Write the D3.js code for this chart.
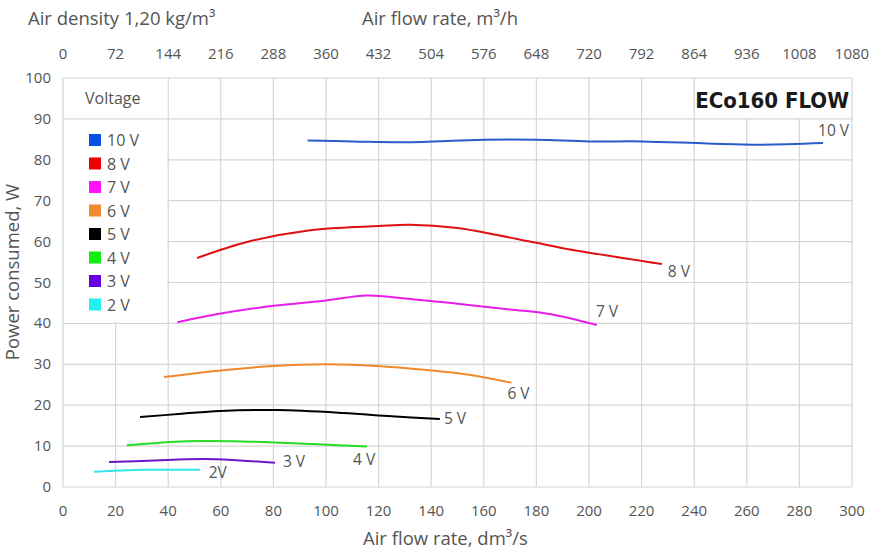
<!doctype html>
<html>
<head>
<meta charset="utf-8">
<script src="https://cdnjs.cloudflare.com/ajax/libs/d3/7.8.5/d3.min.js"></script>
<style>
  body { margin: 0; background: #fff; }
  text { font-family: "Open Sans", "Noto Sans", sans-serif; fill: #555; }
</style>
</head>
<body>
<div id="chart"></div>
<script>
// voltages and their measured curves (flow dm3/s, power W)
const voltages = ["10 V", "8 V", "7 V", "6 V", "5 V", "4 V", "3 V", "2 V"];
const curveLabels = ["10 V", "8 V", "7 V", "6 V", "5 V", "4 V", "3 V", "2V"];
const lineColors = ["#2a5ccc", "#e01010", "#e81ee8", "#f0892a", "#000000", "#25dd25", "#6a18c8", "#33e6ee"];
const swatchColors = ["#0a52e6", "#ee0000", "#ff10ff", "#f08a30", "#000000", "#10ee10", "#6a00e0", "#22f0f0"];

const curve10 = [[93, 84.7], [110, 84.5], [130, 84.3], [160, 84.9], [180, 84.9], [200, 84.5], [220, 84.5], [245, 84.0], [265, 83.7], [289, 84.1]];
const curve8 = [[51, 56], [70, 59.9], [94, 62.8], [120, 63.8], [132, 64.1], [150, 63.3], [165, 61.6], [180, 59.7], [190, 58.4], [227.7, 54.5]];
const curve7 = [[43.5, 40.3], [60, 42.4], [80, 44.3], [100, 45.6], [115.5, 46.8], [130, 46.1], [150, 44.8], [170, 43.4], [185, 42.3], [203, 39.6]];
const curve6 = [[38.4, 26.9], [60, 28.5], [80, 29.6], [100, 30.0], [119.4, 29.6], [138.4, 28.6], [155, 27.4], [170.5, 25.5]];
const curve5 = [[29.3, 17.1], [45, 17.9], [59.7, 18.6], [81.4, 18.8], [106.5, 18.1], [125, 17.3], [143.3, 16.6]];
const curve4 = [[24.3, 10.2], [47, 11.2], [64.6, 11.2], [95, 10.5], [115.6, 9.9]];
const curve3 = [[17.5, 6.1], [35, 6.5], [47, 6.8], [58.5, 6.8], [80.6, 5.9]];
const curve2 = [[11.8, 3.7], [30.4, 4.2], [52, 4.2]];
const curves = [curve10, curve8, curve7, curve6, curve5, curve4, curve3, curve2];

const xTicks = d3.range(0, 301, 20);
const topTicks = d3.range(0, 1081, 72);
const yTicks = d3.range(0, 101, 10);

// label nudges (px) relative to the last point of each curve
const labelNudge = [[-5, -7], [6, 13], [-1, -8], [-4, 16], [4, 5], [-14, 18], [8, 4], [9, 8]];

const W = 870, H = 551;
const svg = d3.select("#chart").append("svg").attr("width", W).attr("height", H);

const x = d3.scaleLinear().domain([0, 300]).range([63, 852]);
const xTop = d3.scaleLinear().domain([0, 1080]).range([63, 852]);
const y = d3.scaleLinear().domain([0, 100]).range([487, 78]);

// grid
svg.append("g").selectAll("line").data(xTicks).join("line")
  .attr("x1", d => x(d)).attr("x2", d => x(d))
  .attr("y1", y(0)).attr("y2", y(100))
  .attr("stroke", "#d6d6d6").attr("stroke-width", 1.2);
svg.append("g").selectAll("line").data(yTicks).join("line")
  .attr("x1", x(0)).attr("x2", x(300))
  .attr("y1", d => y(d)).attr("y2", d => y(d))
  .attr("stroke", "#d6d6d6").attr("stroke-width", 1.2);

// legend box and title box cover the grid
svg.append("rect").attr("x", x(0) + 1).attr("y", y(100) + 1)
  .attr("width", x(40) - x(0) - 2).attr("height", y(40) - y(100) - 2).attr("fill", "#fff");
svg.append("line").attr("x1", x(0)).attr("x2", x(40)).attr("y1", y(90)).attr("y2", y(90))
  .attr("stroke", "#d6d6d6").attr("stroke-width", 1.2);
svg.append("rect").attr("x", x(240) + 1).attr("y", y(100) + 1)
  .attr("width", x(300) - x(240) - 2).attr("height", y(90) - y(100) - 2).attr("fill", "#fff");

// axes labels
svg.append("g").selectAll("text").data(xTicks).join("text")
  .attr("x", d => x(d)).attr("y", 516).attr("text-anchor", "middle")
  .attr("font-size", 15).text(d => d);
svg.append("g").selectAll("text").data(topTicks).join("text")
  .attr("x", d => xTop(d)).attr("y", 59).attr("text-anchor", "middle")
  .attr("font-size", 15).text(d => d);
svg.append("g").selectAll("text").data(yTicks).join("text")
  .attr("x", 51).attr("y", d => y(d) + 5).attr("text-anchor", "end")
  .attr("font-size", 15).text(d => d);

svg.append("text").attr("x", 28).attr("y", 25).attr("font-size", 18.5).text("Air density 1,20 kg/m³");
svg.append("text").attr("x", 362).attr("y", 25).attr("font-size", 18.5).text("Air flow rate, m³/h");
svg.append("text").attr("x", 363).attr("y", 545).attr("font-size", 18.5).text("Air flow rate, dm³/s");
svg.append("text").attr("transform", "translate(19,272) rotate(-90)")
  .attr("text-anchor", "middle").attr("font-size", 18.5).text("Power consumed, W");

svg.append("text").attr("x", 849).attr("y", 108).attr("text-anchor", "end")
  .attr("font-size", 22).attr("font-weight", "bold")
  .style("fill", "#1a1a1a").style("font-family", "'DejaVu Sans Condensed', sans-serif")
  .text("ECo160 FLOW");

// curves
const line = d3.line().x(d => x(d[0])).y(d => y(d[1])).curve(d3.curveCatmullRom.alpha(0.5));
svg.append("g").selectAll("path").data(curves).join("path")
  .attr("d", line).attr("fill", "none")
  .attr("stroke", (d, i) => lineColors[i]).attr("stroke-width", 2);

svg.append("g").selectAll("text").data(curves).join("text")
  .attr("x", (d, i) => x(d[d.length - 1][0]) + labelNudge[i][0])
  .attr("y", (d, i) => y(d[d.length - 1][1]) + labelNudge[i][1])
  .attr("font-size", 15.5).text((d, i) => curveLabels[i]);

// legend
svg.append("text").attr("x", 85).attr("y", 104).attr("font-size", 16).text("Voltage");
const leg = svg.append("g").selectAll("g").data(voltages).join("g")
  .attr("transform", (d, i) => `translate(89,${140 + i * 23.5})`);
leg.append("rect").attr("x", 0).attr("y", -6).attr("width", 12).attr("height", 12)
  .attr("fill", (d, i) => swatchColors[i]);
leg.append("text").attr("x", 18).attr("y", 6).attr("font-size", 16).text(d => d);
</script>
</body>
</html>
